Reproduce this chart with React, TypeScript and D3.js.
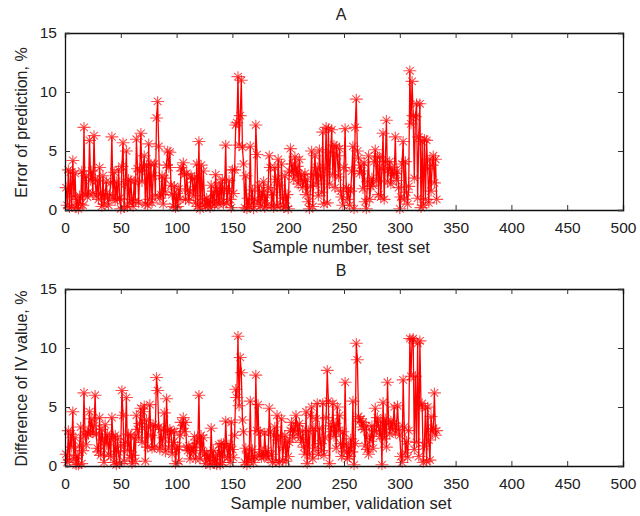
import React, { useEffect, useRef } from 'react';
import * as d3 from 'd3';

const xTicks = [0, 50, 100, 150, 200, 250, 300, 350, 400, 450, 500];
const yTicks = [0, 5, 10, 15];

// error of prediction, one value per test sample
const errorValues = [
  1.9, 0.4, 3.4, 0.2, 3.2, 0.3, 4.2, 1.1, 3.1, 0.2,
  0.9, 0.1, 1.2, 0.5, 3.3, 0.4, 7.0, 1.3, 2.9, 1.1,
  1.5, 5.9, 2.5, 3.3, 1.4, 6.3, 2.6, 1.2, 2.5, 0.9,
  3.6, 1.4, 0.3, 2.9, 0.5, 1.3, 2.4, 1.0, 0.4, 1.3,
  2.3, 6.2, 1.1, 3.2, 0.8, 2.4, 0.9, 3.4, 1.0, 0.1,
  3.7, 5.7, 0.2, 2.2, 5.0, 0.3, 2.6, 0.6, 2.5, 0.9,
  0.3, 2.4, 0.8, 6.0, 3.5, 0.6, 3.3, 6.5, 2.4, 3.6,
  4.6, 0.5, 3.8, 0.4, 5.6, 0.9, 3.9, 0.6, 2.9, 3.9,
  1.2, 7.8, 9.2, 5.4, 1.0, 1.3, 2.9, 0.5, 2.7, 1.5,
  3.8, 5.0, 3.6, 4.9, 2.1, 1.3, 0.3, 2.0, 0.2, 1.4,
  0.3, 1.8, 0.9, 3.6, 3.3, 4.0, 3.0, 0.9, 3.1, 1.7,
  0.8, 1.6, 2.9, 2.6, 1.2, 2.7, 0.6, 3.9, 0.3, 5.8,
  0.1, 3.8, 0.5, 3.3, 0.9, 0.3, 1.0, 0.4, 0.8, 0.2,
  2.1, 0.6, 1.6, 0.4, 3.0, 0.7, 1.9, 0.5, 2.3, 0.9,
  2.6, 0.5, 1.8, 5.5, 0.6, 1.6, 2.5, 0.9, 0.2, 3.4,
  1.4, 3.4, 7.2, 7.4, 11.3, 5.5, 8.0, 11.0, 5.3, 3.9,
  0.2, 2.9, 0.1, 1.0, 0.3, 5.4, 0.5, 1.7, 0.1, 0.9,
  7.2, 4.7, 0.6, 2.1, 0.3, 1.6, 0.8, 2.4, 0.2, 1.3,
  0.4, 1.9, 4.6, 3.6, 0.4, 1.5, 0.2, 3.6, 2.6, 0.3,
  4.3, 2.1, 0.5, 3.9, 1.0, 0.2, 2.9, 0.3, 1.3, 0.1,
  3.3, 5.2, 3.2, 3.9, 2.6, 4.5, 2.9, 3.7, 2.2, 4.3,
  2.5, 3.0, 1.9, 2.4, 3.1, 1.3, 2.6, 0.7, 0.1, 2.0,
  5.0, 0.3, 3.0, 4.6, 2.2, 3.6, 1.2, 5.1, 2.9, 1.5,
  6.6, 0.5, 3.5, 7.0, 0.6, 6.9, 2.2, 4.9, 6.8, 3.0,
  5.5, 1.9, 5.4, 4.6, 2.8, 5.2, 1.6, 1.1, 0.4, 3.6,
  6.9, 1.9, 0.9, 1.8, 0.4, 1.6, 3.3, 5.4, 0.1, 7.0,
  9.4, 5.0, 4.4, 3.1, 3.8, 3.3, 1.8, 4.0, 0.7, 0.1,
  2.4, 4.6, 0.9, 2.0, 2.7, 2.1, 4.1, 5.1, 2.5, 4.5,
  1.3, 4.5, 1.1, 3.5, 6.5, 0.9, 4.1, 7.6, 2.4, 3.4,
  4.1, 2.2, 3.6, 2.9, 3.1, 6.2, 2.5, 3.3, 1.9, 0.1,
  1.1, 3.9, 5.8, 0.9, 4.1, 1.5, 0.5, 2.0, 11.8, 7.3,
  10.9, 8.0, 2.7, 7.9, 9.0, 1.0, 6.2, 9.0, 0.2, 5.8,
  0.4, 6.0, 0.9, 5.9, 3.5, 0.6, 4.3, 1.6, 3.8, 4.6,
  2.3, 4.3, 0.9,
];

// difference of IV value, one value per validation sample
const differenceValues = [
  1.0, 0.3, 3.0, 0.5, 2.7, 1.6, 4.6, 0.6, 2.4, 0.1,
  0.9, 0.1, 1.7, 3.3, 0.2, 1.3, 6.2, 2.6, 1.8, 2.9,
  2.7, 4.6, 2.9, 4.0, 2.8, 3.4, 6.0, 2.7, 1.5, 1.2,
  4.1, 0.9, 3.1, 2.2, 0.3, 3.5, 1.8, 2.7, 1.0, 2.4,
  0.8, 4.1, 2.5, 0.3, 2.6, 0.1, 2.3, 1.2, 0.2, 1.7,
  6.4, 4.3, 0.4, 2.0, 5.8, 1.3, 2.7, 0.7, 2.6, 0.2,
  0.9, 2.4, 0.4, 4.3, 3.1, 2.4, 3.6, 4.9, 2.0, 4.6,
  5.1, 0.4, 3.9, 1.6, 3.3, 5.2, 2.6, 1.5, 3.5, 1.6,
  3.4, 7.5, 6.4, 3.3, 1.4, 3.1, 1.7, 2.4, 4.5, 1.2,
  5.7, 3.0, 1.5, 3.1, 2.9, 1.0, 2.0, 2.9, 0.2, 1.4,
  1.7, 0.4, 2.6, 3.7, 3.2, 4.1, 2.9, 3.7, 1.6, 1.3,
  1.7, 0.6, 1.3, 1.6, 1.1, 2.5, 0.6, 2.2, 1.9, 6.0,
  0.6, 2.6, 1.3, 2.4, 1.0, 0.2, 1.1, 0.5, 0.9, 0.1,
  3.2, 0.4, 1.3, 0.2, 0.8, 0.1, 1.0, 1.8, 0.1, 1.9,
  0.3, 1.9, 0.8, 3.8, 1.6, 0.7, 1.8, 0.3, 3.7, 1.4,
  0.7, 2.6, 6.5, 5.8, 11.0, 5.1, 9.2, 7.9, 3.9, 2.9,
  0.3, 1.5, 0.1, 1.1, 0.4, 5.5, 0.6, 1.4, 0.3, 0.8,
  7.7, 3.0, 5.2, 0.9, 2.9, 0.7, 1.2, 0.8, 2.8, 0.9,
  1.3, 0.6, 4.9, 2.9, 1.0, 0.3, 2.6, 3.3, 0.4, 4.3,
  2.2, 0.3, 2.5, 4.0, 0.5, 1.6, 2.6, 0.4, 2.1, 0.8,
  2.0, 3.0, 3.7, 2.4, 3.2, 2.9, 4.3, 3.4, 2.6, 3.6,
  2.4, 2.0, 3.0, 1.6, 1.0, 4.6, 0.2, 3.0, 1.0, 4.3,
  5.0, 0.6, 3.2, 1.5, 4.0, 5.3, 1.0, 3.2, 1.9, 1.3,
  5.3, 0.9, 2.4, 4.1, 8.1, 5.5, 0.2, 3.4, 2.9, 5.3,
  2.5, 3.6, 1.5, 5.0, 3.0, 4.3, 1.9, 0.8, 2.9, 1.2,
  7.1, 1.8, 0.6, 1.6, 0.8, 2.3, 1.2, 5.5, 0.1, 1.9,
  10.4, 9.0, 4.2, 3.8, 4.0, 3.3, 3.7, 3.1, 1.7, 3.4,
  1.4, 1.0, 2.6, 2.1, 3.4, 1.5, 3.0, 4.9, 2.9, 4.1,
  3.4, 2.5, 3.8, 0.1, 5.4, 2.3, 4.0, 1.6, 7.1, 3.6,
  2.7, 3.8, 3.1, 3.6, 5.0, 2.8, 3.4, 5.1, 3.1, 2.6,
  0.8, 0.3, 7.3, 3.3, 1.1, 2.1, 0.7, 3.0, 10.8, 7.6,
  10.7, 10.8, 1.4, 7.6, 2.0, 10.4, 0.8, 10.6, 5.1, 5.3,
  0.3, 1.7, 4.9, 0.4, 5.0, 2.2, 0.5, 4.2, 2.9, 3.2,
  6.2, 2.6, 3.0,
];

// matlab style star marker, wider than tall
const starSymbol = {
  draw(context: any, size: number) {
    const w = Math.sqrt(size);
    const h = w * 0.82;
    context.moveTo(-w, 0);
    context.lineTo(w, 0);
    context.moveTo(0, -h);
    context.lineTo(0, h);
    context.moveTo(-w * 0.6, -h * 0.7);
    context.lineTo(w * 0.6, h * 0.7);
    context.moveTo(-w * 0.6, h * 0.7);
    context.lineTo(w * 0.6, -h * 0.7);
  },
};

const width = 640;
const height = 516;
const left = 65;
const right = 623;
const font = '"Liberation Sans", Arial, sans-serif';

const panels = [
  { title: 'A', xLabel: 'Sample number, test set', yLabel: 'Error of prediction, %', values: errorValues, top: 33, bottom: 210 },
  { title: 'B', xLabel: 'Sample number, validation set', yLabel: 'Difference of IV value, %', values: differenceValues, top: 289, bottom: 466 },
];

const App = () => {
  const svgRef = useRef<SVGSVGElement>(null);

  useEffect(() => {
    const svg = d3.select(svgRef.current);
    svg.selectAll('*').remove();

    const xScale = d3.scaleLinear().domain([0, 500]).range([left, right]);

    panels.forEach((panel) => {
      const yScale = d3.scaleLinear().domain([0, 15]).range([panel.bottom, panel.top]);
      const g = svg.append('g');

      const line = d3.line<number>()
        .x((d, i) => xScale(i + 1))
        .y((d) => yScale(d));

      g.append('path')
        .datum(panel.values)
        .attr('d', line)
        .attr('fill', 'none')
        .attr('stroke', '#ff0000')
        .attr('stroke-width', 1.3);

      const star = d3.symbol().type(starSymbol).size(42);
      g.selectAll('.star')
        .data(panel.values)
        .enter()
        .append('path')
        .attr('class', 'star')
        .attr('d', star)
        .attr('transform', (d, i) => `translate(${xScale(i + 1)},${yScale(d)})`)
        .attr('fill', 'none')
        .attr('stroke', '#ff0000')
        .attr('stroke-opacity', 0.7)
        .attr('stroke-width', 1.1);

      const axes = [
        { axis: d3.axisBottom(xScale).tickValues(xTicks).tickSize(-5).tickPadding(12), at: `translate(0,${panel.bottom})` },
        { axis: d3.axisTop(xScale).tickValues(xTicks).tickSize(-5).tickFormat(() => ''), at: `translate(0,${panel.top})` },
        { axis: d3.axisLeft(yScale).tickValues(yTicks).tickSize(-5).tickPadding(8), at: `translate(${left},0)` },
        { axis: d3.axisRight(yScale).tickValues(yTicks).tickSize(-5).tickFormat(() => ''), at: `translate(${right},0)` },
      ];

      axes.forEach(({ axis, at }) => {
        const a = g.append('g').attr('transform', at).call(axis);
        a.selectAll('.domain').attr('stroke', '#111').attr('stroke-width', 1.3);
        a.selectAll('.tick line').attr('stroke', '#333');
        a.selectAll('text')
          .attr('fill', '#222')
          .style('font-family', font)
          .style('font-size', '15.5px');
      });

      g.append('text')
        .attr('x', (left + right) / 2 - 3)
        .attr('y', panel.top - 13)
        .attr('text-anchor', 'middle')
        .attr('fill', '#222')
        .style('font-family', font)
        .style('font-size', '16px')
        .text(panel.title);

      g.append('text')
        .attr('x', (left + right) / 2 - 3)
        .attr('y', panel.bottom + 43)
        .attr('text-anchor', 'middle')
        .attr('fill', '#222')
        .style('font-family', font)
        .style('font-size', '16.5px')
        .text(panel.xLabel);

      g.append('text')
        .attr('transform', `translate(27,${(panel.top + panel.bottom) / 2 + 1}) rotate(-90)`)
        .attr('text-anchor', 'middle')
        .attr('fill', '#222')
        .style('font-family', font)
        .style('font-size', '16px')
        .text(panel.yLabel);
    });
  }, []);

  return (
    <svg
      ref={svgRef}
      width={width}
      height={height}
      viewBox={`0 0 ${width} ${height}`}
      style={{ position: 'absolute', left: 0, top: 0, background: '#fff' }}
    />
  );
};

export default App;
